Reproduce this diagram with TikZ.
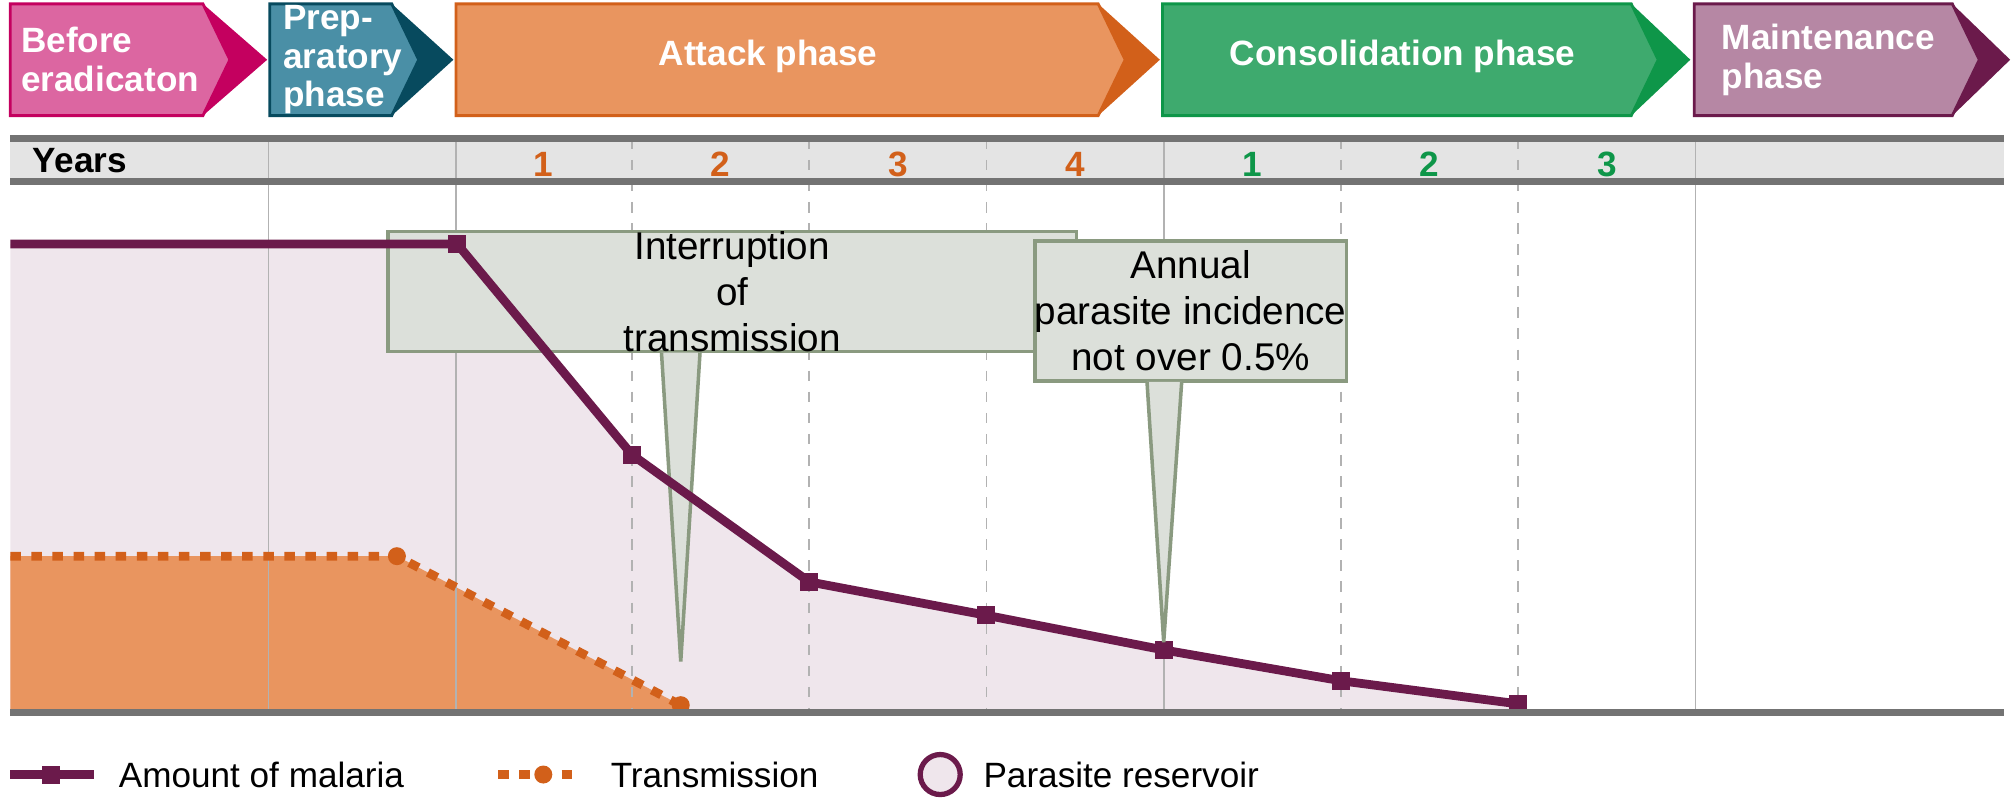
\documentclass[tikz,border=0pt]{standalone}
\usepackage{fontspec}
\setmainfont{Liberation Sans}
\usetikzlibrary{positioning,calc}
\definecolor{beforelight}{RGB}{220,102,161}
\definecolor{beforedark}{RGB}{196,0,95}
\definecolor{preplight}{RGB}{74,143,166}
\definecolor{prepdark}{RGB}{7,74,94}
\definecolor{attacklight}{RGB}{233,149,95}
\definecolor{attackdark}{RGB}{210,96,26}
\definecolor{conslight}{RGB}{62,170,110}
\definecolor{consdark}{RGB}{14,150,73}
\definecolor{mainlight}{RGB}{182,135,164}
\definecolor{maindark}{RGB}{107,26,75}
\definecolor{malaria}{RGB}{107,26,75}
\definecolor{reservoir}{RGB}{239,230,236}
\definecolor{bandgray}{RGB}{228,228,228}
\definecolor{calloutfill}{RGB}{220,224,218}
\definecolor{calloutdraw}{RGB}{138,154,128}

% phase chevron: left, body end, tip, light, dark
\newcommand\phasebox[5]{%
  \fill[#5] (#2,3) -- (#3,46.5) -- (#2,90) -- ($(#2,46.5)+(21,0)$) -- cycle;
  \draw[#5, fill=#4, line width=0.8pt] (#1,3) -- (#2,3) -- ($(#2,46.5)+(21,0)$) -- (#2,90) -- (#1,90) -- cycle;
}

\begin{document}
\begin{tikzpicture}[
    x=0.012844cm, y=-0.012844cm,
    phase/.style={text=white, font=\bfseries\fontsize{10}{11}\selectfont, align=left, inner sep=0pt},
    year/.style={font=\bfseries\fontsize{10}{11}\selectfont},
    grid/.style={gray!60, line width=0.5pt},
    dgrid/.style={grid, dash pattern=on 3pt off 3pt},
    callout/.style={draw=calloutdraw, fill=calloutfill, line width=1pt, align=center, font=\fontsize{11}{13}\selectfont, inner sep=0pt},
    mark sq/.style={fill=malaria, minimum size=0.18cm, inner sep=0pt},
    mark ci/.style={circle, fill=attackdark, minimum size=0.18cm, inner sep=0pt},
    legend/.style={font=\fontsize{10}{12}\selectfont, anchor=west, inner sep=0pt}
]
    \useasboundingbox (0,0) rectangle (1568,622);

    % phases
    \phasebox{8}{158}{208}{beforelight}{beforedark}
    \phasebox{210}{305}{353}{preplight}{prepdark}
    \phasebox{355}{855}{903}{attacklight}{attackdark}
    \phasebox{905}{1270}{1316}{conslight}{consdark}
    \phasebox{1319}{1520}{1565}{mainlight}{maindark}
    \node[phase, anchor=west] (before) at (16,46.5) {Before\\eradicaton};
    \node[phase, anchor=west] (prep) at (220,46.5) {Prep-\\aratory\\phase};
    \node[phase] (attack) at (598,44) {Attack phase};
    \node[phase] (cons) at (1092,44) {Consolidation phase};
    \node[phase, anchor=west] (maint) at (1340,46.5) {Maintenance\\phase};

    % plot areas
    \fill[reservoir] (8,190) -- (356,190) -- (492,354) -- (630,453) -- (768,479) -- (906,506) -- (1044,530) -- (1182,548) -- (1182,555) -- (8,555) -- cycle;
    \fill[attacklight] (8,433) -- (309,433) -- (530,549) -- (530,555) -- (8,555) -- cycle;

    % years band
    \fill[bandgray] (8,108) rectangle (1560,141);
    \foreach \x in {209,355,906,1320} \draw[grid] (\x,108) -- (\x,555);
    \foreach \x in {492,630,768,1044,1182} \draw[dgrid] (\x,108) -- (\x,555);
    \draw[gray!90!black, line width=2pt] (8,108) -- (1560,108);
    \draw[gray!90!black, line width=2pt] (8,141) -- (1560,141);
    \node[year, anchor=west] (years) at (16,125) {Years};
    \foreach \x/\n in {423/1,561/2,699/3,837/4} \node[year, text=attackdark] (ya\n) at (\x,128) {\n};
    \foreach \x/\n in {975/1,1113/2,1251/3} \node[year, text=consdark] (yc\n) at (\x,128) {\n};

    % transmission
    \coordinate (t0) at (8,433);
    \node[mark ci] (t1) at (309,433) {};
    \node[mark ci] (t2) at (530,549) {};
    \draw[attackdark, line width=2.5pt, dash pattern=on 3pt off 3pt] (t0) -- (t1.center) -- (t2.center);

    % callouts
    \node[callout, minimum width=196\pgflinewidth, text width=2.4cm, minimum height=0.96cm] (intr) at (570,227) {Interruption of\\transmission};
    \coordinate (intrtip) at (530,515);
    \filldraw[draw=calloutdraw, fill=calloutfill, line width=1pt] ($(intr.south)+(-55,-0.5)$) -- (intrtip) -- ($(intr.south)+(-25,-0.5)$);

    % malaria
    \coordinate (m0) at (8,190);
    \foreach \x/\y [count=\i] in {356/190,492/354,630/453,768/479,906/506,1044/530,1182/548}
      \coordinate (m\i) at (\x,\y);
    \draw[malaria, line width=2.5pt] (m0) -- (m1) -- (m2) -- (m3) -- (m4) -- (m5) -- (m6) -- (m7);
    \foreach \i in {1,...,7} \node[mark sq] at (m\i) {};

    \node[callout, minimum width=2.89cm, minimum height=1.4cm] (annual) at (927,242) {Annual\\parasite incidence\\not over 0.5\%};
    \coordinate (annualtip) at (906,500);
    \filldraw[draw=calloutdraw, fill=calloutfill, line width=1pt] ($(annual.south)+(-34,-0.5)$) -- (annualtip) -- ($(annual.south)+(-7,-0.5)$);

    % baseline
    \draw[gray!90!black, line width=2pt] (8,555) -- (1560,555);

    % legend
    \coordinate (la) at (8,603);
    \coordinate (lb) at (73,603);
    \draw[malaria, line width=2.5pt] (la) -- (lb);
    \node[mark sq] at (40,603) {};
    \node[legend] (lmal) at (92,603) {Amount of malaria};
    \coordinate (lc) at (388,603);
    \coordinate (ld) at (453,603);
    \draw[attackdark, line width=2.5pt, dash pattern=on 3pt off 3pt] (lc) -- (ld);
    \node[mark ci] at (423,603) {};
    \node[legend] (ltr) at (475,603) {Transmission};
    \node[circle, draw=malaria, fill=reservoir, line width=1.5pt, minimum size=0.4cm] (lres) at (732,603) {};
    \node[legend, right=0.2cm of lres] (lrestext) {Parasite reservoir};
\end{tikzpicture}
\end{document}
